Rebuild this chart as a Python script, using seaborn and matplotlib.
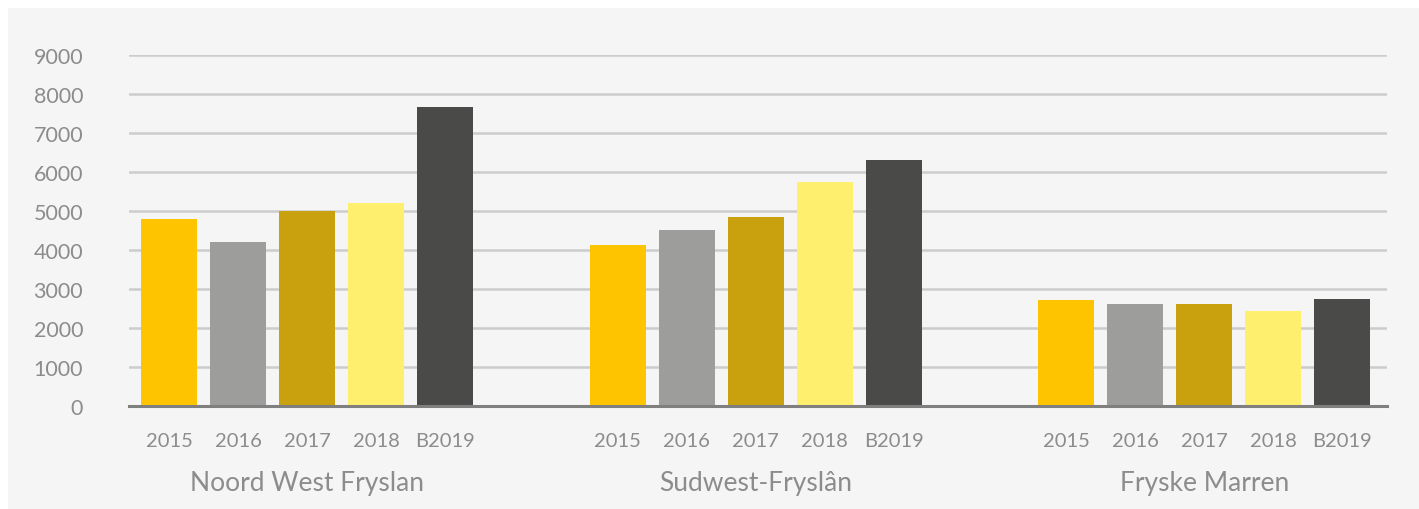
import matplotlib
matplotlib.use("Agg")
import matplotlib.pyplot as plt
import matplotlib.transforms as mtransforms
from matplotlib.patches import Rectangle
import seaborn as sns
import pandas as pd

regions = ["Noord West Fryslan", "Sudwest-Fryslân", "Fryske Marren"]
years = ["2015", "2016", "2017", "2018", "B2019"]
noord_west = [4790, 4200, 5000, 5200, 7670]
sudwest = [4130, 4510, 4850, 5740, 6310]
fryske_marren = [2720, 2620, 2620, 2440, 2740]
colors = ["#FFC400", "#9D9D9C", "#C9A00D", "#FFEF6E", "#4A4A48"]
yticks = [0, 1000, 2000, 3000, 4000, 5000, 6000, 7000, 8000, 9000]

series = [noord_west, sudwest, fryske_marren]
group_step = 6.5
rows = []
for g, (reg, vals) in enumerate(zip(regions, series)):
    for i, (yr, v) in enumerate(zip(years, vals)):
        rows.append({"region": reg, "year": yr, "value": v, "pos": g * group_step + i})
df = pd.DataFrame(rows)

sns.set_theme(style="white")
plt.rcParams["font.family"] = ["Lato", "DejaVu Sans"]

fig = plt.figure(figsize=(14.19, 5.10), dpi=100, facecolor="white")
bg = Rectangle((8 / 1419, 0), 1 - 8 / 1419, 1 - 9 / 510, transform=fig.transFigure,
               facecolor="#f5f5f5", edgecolor="none", zorder=-10)
fig.patches.append(bg)

ax = fig.add_axes([129 / 1419, 1 - 407 / 510, (1387 - 129) / 1419, (407 - 55.7) / 510])
ax.set_facecolor("none")
ax.patch.set_alpha(0)

sns.barplot(data=df, x="pos", y="value", hue="year", palette=colors, native_scale=True,
            width=0.81, dodge=False, legend=False, ax=ax, zorder=3, saturation=1,
            linewidth=0, edgecolor="none")

ax.set_xlim(-0.58, 17.65)
ax.set_ylim(0, 9000)
ax.set_yticks(yticks)
ax.set_yticklabels([str(t) for t in yticks], fontsize=15.5, color="#8c8c8c")
ax.tick_params(axis="y", length=0, pad=33)
ax.yaxis.grid(True, color="#cccccc", linewidth=1.8, zorder=0)
ax.set_axisbelow(True)

ax.set_xticks(df["pos"].tolist())
ax.set_xticklabels(df["year"].tolist(), fontsize=14.5, color="#8c8c8c")
ax.tick_params(axis="x", length=0, pad=19)

for s in ["top", "right", "left"]:
    ax.spines[s].set_visible(False)
ax.spines["bottom"].set_color("#7f7f7f")
ax.spines["bottom"].set_linewidth(2.2)
ax.spines["bottom"].set_zorder(5)

ax.set_xlabel("")
ax.set_ylabel("")

trans = mtransforms.blended_transform_factory(ax.transData, fig.transFigure)
for g, reg in enumerate(regions):
    ax.text(g * group_step + 2, 1 - 484 / 510, reg, transform=trans, ha="center", va="center",
            fontsize=19, color="#8c8c8c")

fig.savefig("out.png", dpi=100, facecolor="white")
